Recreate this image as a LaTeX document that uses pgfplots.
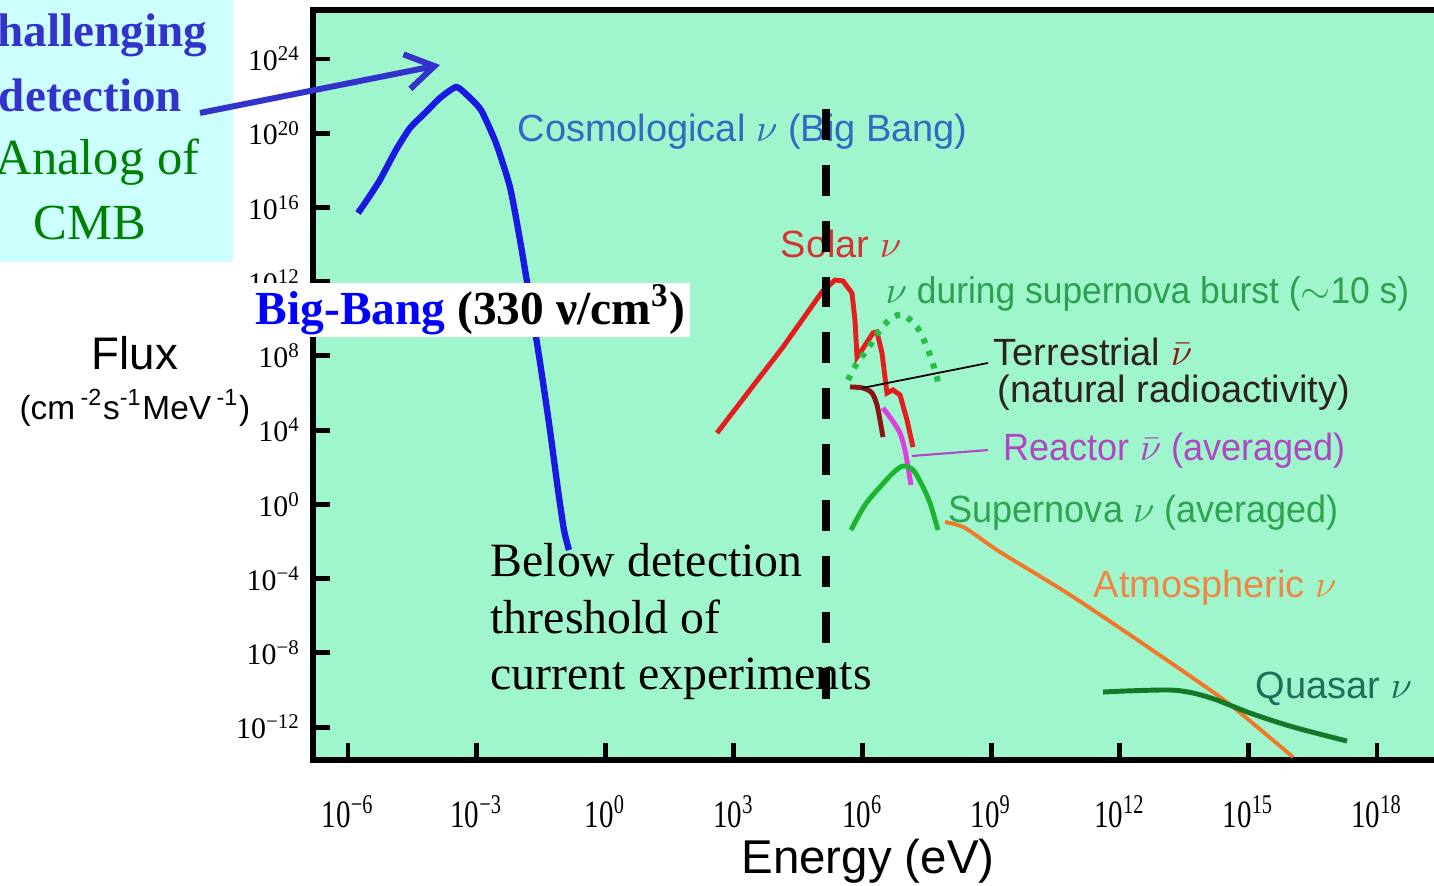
\documentclass[border=0pt]{standalone}
\usepackage{pgfplots}
\pgfplotsset{compat=1.18}
\usepackage{fontspec}
\setmainfont{Liberation Serif}
\newfontfamily\sansf{Liberation Sans}
\newfontfamily\sansn[FakeStretch=0.95]{Liberation Sans}
\newfontfamily\condserif[FakeStretch=0.75]{Liberation Serif}
\usetikzlibrary{arrows.meta}

\definecolor{mint}{RGB}{160,246,204}
\definecolor{boxcyan}{RGB}{204,255,255}
\definecolor{cosmoblue}{RGB}{25,25,225}
\definecolor{solarred}{RGB}{228,30,30}
\definecolor{terrbrown}{RGB}{140,20,20}
\definecolor{reactmag}{RGB}{224,60,224}
\definecolor{snavg}{RGB}{30,180,50}
\definecolor{snburst}{RGB}{40,190,70}
\definecolor{atmorange}{RGB}{240,120,40}
\definecolor{quasargreen}{RGB}{20,120,40}
\definecolor{cosmotext}{RGB}{50,105,195}
\definecolor{solartext}{RGB}{215,50,50}
\definecolor{bursttext}{RGB}{45,160,80}
\definecolor{terrtext}{RGB}{45,35,30}
\definecolor{reacttext}{RGB}{175,70,195}
\definecolor{snavgtext}{RGB}{45,165,80}
\definecolor{atmtext}{RGB}{238,135,70}
\definecolor{quasartext}{RGB}{30,110,90}
\definecolor{arrowblue}{RGB}{51,51,204}
\definecolor{cmbgreen}{RGB}{0,128,0}
\definecolor{bbblue}{RGB}{0,0,255}

\begin{document}
\begin{tikzpicture}
\path[use as bounding box] (0,0) rectangle (14.34,8.86);
\clip (0,0) rectangle (14.34,8.86);
\fill[boxcyan] (-0.1,8.96) rectangle (2.33,6.24);
\begin{axis}[
  at={(3.13cm,1.26cm)}, anchor=south west,
  scale only axis, width=11.27cm, height=7.5cm,
  xmin=-6.816, xmax=19.47, ymin=-13.77, ymax=26.64,
  axis background/.style={fill=mint},
  axis line style={line width=1.5pt},
  tick pos=left, tick align=inside,
  major tick length=4.8pt,
  every tick/.style={black, line width=1.4pt},
  xtick={-6,-3,0,3,6,9,12,15,18},
  xticklabels={10\textsuperscript{−6},10\textsuperscript{−3},10\textsuperscript{0},10\textsuperscript{3},10\textsuperscript{6},10\textsuperscript{9},10\textsuperscript{12},10\textsuperscript{15},10\textsuperscript{18}},
  ytick={-12,-8,-4,0,4,8,12,16,20,24},
  yticklabels={10\textsuperscript{−12},10\textsuperscript{−8},10\textsuperscript{−4},10\textsuperscript{0},10\textsuperscript{4},10\textsuperscript{8},10\textsuperscript{12},10\textsuperscript{16},10\textsuperscript{20},10\textsuperscript{24}},
  xticklabel style={font=\condserif\fontsize{11}{12}\selectfont, yshift=-6.5pt},
  yticklabel style={font=\fontsize{8.5}{10}\selectfont},
  xlabel={Energy (eV)},
  xlabel style={font=\sansf\fontsize{13.5}{16}\selectfont, at={(axis description cs:0.4925,-0.089)}, anchor=north},
  ylabel={{\fontsize{13}{14.2}\selectfont Flux}\\(cm\,\textsuperscript{-2}s\textsuperscript{-1}MeV\,\textsuperscript{-1})},
  ylabel style={rotate=-90, align=center, font=\sansf\fontsize{9.5}{14.2}\selectfont, at={(axis description cs:-0.158,0.505)}, anchor=center},
  clip=true,
]
% Cosmological (Big Bang)
\addplot[cosmoblue, line width=1.8pt, smooth, tension=0.35] coordinates {
(-5.767,15.70) (-5.557,16.40) (-5.254,17.48) (-4.880,19.10) (-4.554,20.28)
(-4.204,21.09) (-3.854,21.90) (-3.481,22.49) (-3.248,22.11) (-2.898,21.25)
(-2.548,19.47) (-2.222,17.10) (-1.988,14.25) (-1.755,11.02) (-1.522,7.67)
(-1.289,4.01) (-1.102,0.78) (-0.962,-1.38) (-0.846,-2.46)};
% Solar
\addplot[solarred, line width=1.4pt] coordinates {
(2.607,3.85) (3.376,6.17) (4.146,8.48) (5.055,11.45) (5.359,12.09)
(5.545,12.04) (5.755,11.39) (5.825,9.94) (5.872,7.94) (5.988,8.32)
(6.245,9.24) (6.338,9.29) (6.455,8.16) (6.571,6.00) (6.711,6.17)
(6.875,5.90) (7.038,4.55) (7.178,3.09)};
% Supernova burst (dotted)
\addplot[snburst, line width=1.7pt, dash pattern=on 1.5pt off 2.3pt, smooth] coordinates {
(5.662,6.70) (5.872,7.62) (6.105,8.32) (6.408,9.40) (6.688,10.05)
(6.945,10.21) (7.271,9.56) (7.504,8.48) (7.691,7.24) (7.761,6.60)};
% Terrestrial
\addplot[terrbrown, line width=1.4pt, smooth] coordinates {
(5.709,6.33) (6.012,6.27) (6.222,6.00) (6.338,5.36) (6.408,4.55) (6.478,3.63)};
% Reactor
\addplot[reactmag, line width=1.4pt, smooth] coordinates {
(6.478,5.20) (6.688,4.55) (6.875,3.85) (6.991,2.93) (7.061,2.02) (7.131,1.05)};
% Supernova averaged
\addplot[snavg, line width=1.4pt, smooth] coordinates {
(5.732,-1.38) (6.058,-0.03) (6.408,0.94) (6.711,1.69) (6.945,2.07)
(7.178,1.86) (7.388,1.05) (7.574,0.08) (7.761,-1.38)};
% Atmospheric
\addplot[atmorange, line width=1.1pt, smooth] coordinates {
(7.924,-0.95) (8.391,-1.27) (9.207,-2.56) (10.770,-4.77) (12.309,-7.14)
(13.872,-9.62) (14.641,-10.91) (16.041,-13.61)};
% Quasar
\addplot[quasargreen, line width=1.4pt, smooth] coordinates {
(11.609,-10.11) (12.169,-10.05) (13.172,-10.00) (13.708,-10.16) (14.268,-10.54)
(15.038,-11.24) (16.041,-11.99) (17.300,-12.75)};
% leader lines
\draw[black, line width=0.5pt] (axis cs:5.988,6.27) -- (axis cs:8.927,7.62);
\draw[reacttext, line width=0.6pt] (axis cs:7.155,2.61) -- (axis cs:8.927,2.93);
% labels
\begin{scope}[every node/.style={anchor=base west, inner sep=0pt, font=\sansf\fontsize{10.8}{13}\selectfont}]
\node[text=cosmotext] at (axis cs:-2.058,19.53) {Cosmological $\nu$ (Big Bang)};
\node[text=solartext] at (axis cs:4.076,13.33) {Solar $\nu$};
\node[text=bursttext, font=\sansn\fontsize{10.6}{13}\selectfont] at (axis cs:6.525,10.85) {$\nu$ during supernova burst ($\sim$10 s)};
\node[text=terrtext] at (axis cs:9.044,7.51) {Terrestrial \textcolor{terrbrown}{$\bar{\nu}$}};
\node[text=terrtext] at (axis cs:9.137,5.47) {(natural radioactivity)};
\node[text=reacttext, font=\sansn\fontsize{10.8}{13}\selectfont] at (axis cs:9.277,2.39) {Reactor $\bar{\nu}$ (averaged)};
\node[text=snavgtext, font=\sansn\fontsize{10.8}{13}\selectfont] at (axis cs:7.994,-0.95) {Supernova $\nu$ (averaged)};
\node[text=atmtext] at (axis cs:11.376,-4.99) {Atmospheric $\nu$};
\node[text=quasartext] at (axis cs:15.155,-10.43) {Quasar $\nu$};
\end{scope}
\begin{scope}[every node/.style={anchor=base west, inner sep=0pt, font=\fontsize{13.6}{16}\selectfont}]
\node at (axis cs:-2.688,-3.91) {Below detection};
\node at (axis cs:-2.688,-6.93) {threshold of};
\node at (axis cs:-2.688,-9.998) {current experiments};
\end{scope}
% detection threshold
\addplot[black, line width=2.3pt, dash pattern=on 8.8pt off 7.1pt] coordinates {(5.149,21.31) (5.149,-10.64)};
\end{axis}
% Big-Bang box
\fill[white] (2.48,6.03) rectangle (6.90,5.49);
\node[anchor=base west, inner sep=0pt, font=\bfseries\fontsize{13.5}{16}\selectfont] at (2.55,5.61) {\textcolor{bbblue}{Big-Bang} (330 ν/cm\textsuperscript{3})};
% left box texts
\node[anchor=base, inner sep=0pt, text=arrowblue, font=\bfseries\fontsize{13.4}{16}\selectfont] at (0.855,8.39) {Challenging};
\node[anchor=base, inner sep=0pt, text=arrowblue, font=\bfseries\fontsize{13.4}{16}\selectfont] at (0.905,7.74) {detection};
\node[anchor=base, inner sep=0pt, text=cmbgreen, font=\fontsize{14.4}{17}\selectfont] at (0.975,7.11) {Analog of};
\node[anchor=base, inner sep=0pt, text=cmbgreen, font=\fontsize{14.4}{17}\selectfont] at (0.90,6.46) {CMB};
% arrow
\draw[arrowblue, line width=1.7pt, -{Straight Barb[length=8pt,width=10pt]}] (2.00,7.73) -- (4.40,8.21);
\end{tikzpicture}
\end{document}
